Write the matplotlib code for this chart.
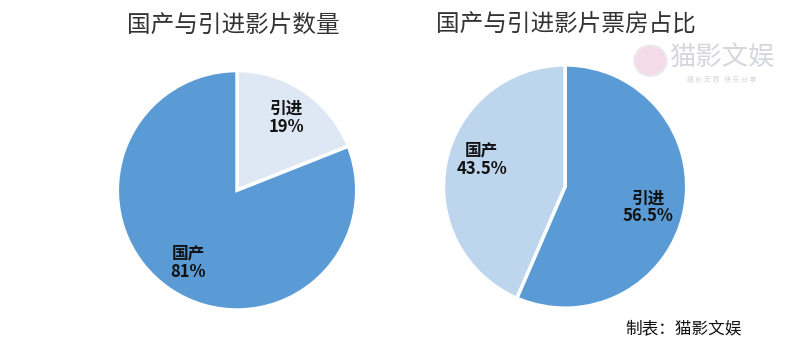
import numpy as np
import matplotlib
matplotlib.use("Agg")
from matplotlib import pyplot as plt
from matplotlib.patches import Ellipse

plt.rcParams['font.family'] = ['Noto Sans CJK SC', 'DejaVu Sans']

# left pie: number of films
count_labels = ["引进", "国产"]
count_share = [19, 81]
count_pct = ["19%", "81%"]
count_colors = ["#dee8f5", "#5b9bd5"]

# right pie: box office share
box_labels = ["引进", "国产"]
box_share = [56.5, 43.5]
box_pct = ["56.5%", "43.5%"]
box_colors = ["#5b9bd5", "#bdd6ee"]

fig = plt.figure(figsize=(8.09, 3.57), dpi=100)


def draw_pie(rect, values, names, pcts, colors, dist, shift):
    ax = fig.add_axes(rect)
    wedges, _ = ax.pie(values, colors=colors, startangle=90, counterclock=False,
                       wedgeprops=dict(edgecolor="white", linewidth=2.5))
    ax.set_xlim(-1.02, 1.02)
    ax.set_ylim(-1.02, 1.02)
    ax.set_aspect("equal")
    for w, n, p, dy in zip(wedges, names, pcts, shift):
        ang = np.deg2rad((w.theta1 + w.theta2) / 2)
        x, y = dist * np.cos(ang), dist * np.sin(ang) + dy
        ax.text(x, y, n + "\n" + p, ha="center", va="center", fontsize=12,
                fontweight="bold", color="#111111", linespacing=1.0)
    return ax


draw_pie([0.142, 0.125, 0.302, 0.684], count_share, count_labels, count_pct,
         count_colors, 0.73, [0, 0])
draw_pie([0.545, 0.13, 0.307, 0.695], box_share, box_labels, box_pct,
         box_colors, 0.70, [-0.03, 0.08])

fig.text(0.288, 0.93, "国产与引进影片数量", fontsize=17, color="#333333", ha="center", va="center")
fig.text(0.70, 0.93, "国产与引进影片票房占比", fontsize=17, color="#333333", ha="center", va="center")

# watermark and source
fig.patches.append(Ellipse((0.804, 0.83), 0.04, 0.085, transform=fig.transFigure,
                           facecolor="#f5dbe6", edgecolor="#e9e9ee", lw=1.5))
fig.text(0.892, 0.838, "猫影文娱", fontsize=19, color="#d6d6de", ha="center", va="center")
fig.text(0.892, 0.775, "精 彩 无 限   快 乐 分 享", fontsize=5, color="#d6d6de", ha="center", va="center")
fig.text(0.845, 0.078, "制表：猫影文娱", fontsize=12, color="#111111", ha="center", va="center")

fig.savefig("out.png", dpi=100, facecolor="white")
